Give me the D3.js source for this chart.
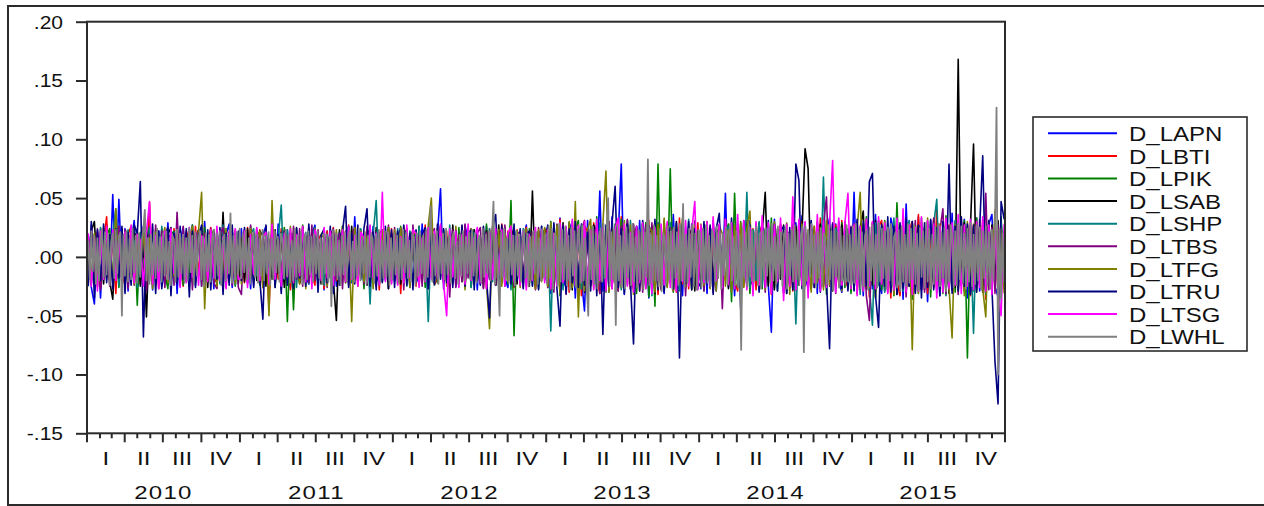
<!DOCTYPE html>
<html>
<head>
<meta charset="utf-8">
<script src="https://cdn.jsdelivr.net/npm/d3@7"></script>
<style>
  body { margin: 0; background: #ffffff; }
  svg text { font-family: "Liberation Sans", Arial, sans-serif; fill: #111; }
</style>
</head>
<body>
<svg id="chart" width="1264" height="506"></svg>
<script>
// ---------------- DATA ----------------
const seriesNames  = ["D_LAPN","D_LBTI","D_LPIK","D_LSAB","D_LSHP","D_LTBS","D_LTFG","D_LTRU","D_LTSG","D_LWHL"];
const seriesColors = ["#0000FF","#FF0000","#008000","#000000","#008080","#800080","#808000","#000080","#FF00FF","#808080"];
const firstObs = "2010-01-04";
const lastObs  = "2015-12-30";
const yTickValues = [0.20, 0.15, 0.10, 0.05, 0.00, -0.05, -0.10, -0.15];
const yTickLabels = [".20", ".15", ".10", ".05", ".00", "-.05", "-.10", "-.15"];
const quarterLabels = ["I", "II", "III", "IV"];
const yearLabels = ["2010", "2011", "2012", "2013", "2014", "2015"];

const D_LAPN = [
 .018,-.026,-.040,.021,-.035,.015,.027,-.019,.053,-.022,.049,-.017,.024,-.029,.012,.031,-.021,-.014,.026,-.023,
 .019,-.028,.016,.022,-.025,-.013,.029,-.018,.021,-.031,.014,.025,-.020,-.016,.027,-.024,.018,-.012,.030,-.021,
 .016,-.027,.023,-.015,-.022,.019,.028,-.026,.013,-.019,
 .024,-.018,.013,-.027,.021,-.014,-.022,.019,.026,-.017,.015,-.024,.028,-.013,-.020,.023,-.026,.017,.012,-.021,
 .025,-.016,-.023,.019,.027,-.015,.014,-.028,.022,-.018,.017,-.025,.021,.013,-.019,.026,-.022,.034,-.017,.015,
 -.024,.020,-.013,.026,-.021,-.016,.023,.018,-.027,.019,
 -.021,.017,.025,-.019,.014,-.026,.022,-.015,-.023,.028,-.018,.016,.024,-.021,.019,.058,-.027,.015,-.012,.023,
 -.025,.018,-.016,.027,.013,-.022,.020,-.028,.017,-.014,.026,-.019,.021,-.024,.016,.023,-.018,-.026,.029,-.015,
 .019,-.022,.014,.027,-.020,.017,-.025,.022,-.013,.018,
 .026,-.031,.019,-.024,.033,-.018,-.027,.029,.021,-.035,.024,-.019,-.046,.031,-.022,.027,-.017,.056,-.029,.023,
 -.026,.034,-.021,.018,.079,-.032,.025,-.028,.020,-.024,.031,-.019,.027,-.035,.022,-.025,.029,.017,-.031,.024,
 -.022,.036,-.027,.019,-.033,.025,-.018,.028,-.024,.021,
 -.027,.022,-.031,.025,.018,-.029,.024,-.020,.054,-.026,.021,-.033,.028,-.019,.023,-.025,.031,-.022,.017,-.028,
 .026,.019,-.024,-.064,.032,-.021,.025,-.030,.022,.018,-.027,.029,-.023,.035,-.018,-.026,.024,.020,-.031,.027,
 -.022,.019,.033,-.025,.028,-.021,-.030,.024,.018,-.026,
 .055,-.028,.024,-.033,.029,.019,-.027,.036,-.022,-.031,.026,-.024,.033,.021,-.029,.027,-.036,.045,-.025,.030,
 -.021,.034,-.028,.024,-.038,.031,-.019,.028,-.033,.025,.022,-.030,.037,-.026,.029,-.023,.032,-.035,.027,-.021,
 .033,-.029,.024,-.031,.028,.036,-.025,-.034,.030,-.022
];
const D_LBTI = [
 -.019,.023,-.016,.021,-.026,.014,.034,-.021,.017,-.031,.022,-.015,-.024,.019,.026,-.018,.013,-.023,.020,-.017,
 .046,-.022,.018,-.027,.015,.021,-.019,-.013,.024,-.020,.017,-.025,.022,.014,-.021,.026,-.016,.019,-.023,.012,
 .025,-.018,-.022,.020,.016,-.026,.021,-.014,.023,-.019,
 .016,-.022,.025,-.017,.020,-.013,.023,-.026,.018,-.045,.022,.015,-.019,.024,-.021,.017,-.028,.020,.013,-.023,
 .026,-.018,.021,-.015,-.024,.019,.014,-.027,.022,-.016,.025,-.020,-.013,.018,-.022,.027,-.017,.021,-.025,.016,
 .019,-.023,.026,-.014,.020,-.028,.017,.022,-.019,.024,
 -.017,.021,-.031,.026,-.019,.014,.023,-.025,.018,-.021,.027,-.016,.020,-.024,-.018,.025,-.013,.022,-.028,.019,
 .015,-.022,.026,-.017,.021,-.025,.018,.013,-.023,.020,-.027,.024,-.015,.019,-.021,.028,-.018,.022,-.014,-.026,
 .023,-.019,.017,.025,-.022,.016,-.027,.021,-.018,.024,
 .021,-.028,.025,-.019,.032,-.024,.018,-.030,.027,-.021,.019,-.033,.026,.022,-.025,.029,-.018,-.031,.024,-.022,
 .030,-.026,.021,-.028,.034,-.019,.023,-.027,.019,.025,-.029,.022,-.024,.031,-.020,.027,-.032,.018,-.025,.028,
 -.021,.024,-.030,.033,-.023,.020,-.027,.026,-.019,.029,
 -.024,.028,-.019,.025,-.030,.021,.018,-.027,.032,-.022,.026,-.020,-.029,.023,-.025,.031,-.018,.024,-.028,.020,
 .027,-.023,.019,-.032,.025,-.021,.028,-.026,.022,.017,-.029,.024,-.020,.030,-.024,.019,-.027,.026,-.021,.033,
 -.025,.022,.018,-.028,.027,-.023,.031,-.019,-.026,.024,
 .027,-.031,.023,-.026,.020,-.034,.029,-.022,.025,.031,-.027,.024,-.035,.028,-.021,-.033,.026,-.029,.022,.030,
 -.024,.036,-.028,.025,-.031,.022,-.026,.040,-.029,.023,-.032,.027,-.021,.030,-.025,.034,-.028,.021,-.033,.026,
 .029,-.024,.031,-.036,.025,-.022,.028,-.030,.024,-.027
];
const D_LPIK = [
 .015,-.022,.019,-.025,.023,-.016,.018,.024,-.021,.017,-.026,.020,-.014,.022,-.019,.025,-.041,.021,-.017,.013,
 .026,-.023,.016,-.020,.024,-.015,-.027,.019,.022,-.018,.014,-.024,.021,-.016,.027,-.022,.018,-.013,.025,-.020,
 .017,.023,-.026,.015,-.019,.024,-.021,.016,-.025,.020,
 -.018,.022,-.015,.026,-.021,.019,-.024,.016,.023,-.017,.020,-.026,.014,-.019,.025,-.055,.021,-.045,.018,-.022,
 .027,-.016,.023,-.020,.015,-.025,.019,.022,-.018,.013,-.024,.021,-.017,.026,-.022,.018,-.014,.025,-.021,.016,
 -.027,.020,.023,-.019,.016,-.024,.022,-.018,.025,-.015,
 .019,-.023,.026,-.017,.021,-.025,.015,.022,-.020,.018,-.026,.024,-.016,.020,-.022,.027,-.019,.014,-.024,.021,
 -.017,.025,-.021,.018,.013,-.026,.023,-.019,.016,-.022,.028,-.018,.021,-.024,.017,-.020,.025,-.023,.048,-.067,
 .022,-.016,.019,-.025,.024,-.018,.020,-.027,.017,.023,
 -.026,.030,-.021,.027,-.033,.024,-.019,.029,-.025,.022,.031,-.027,.020,-.029,.026,-.023,.034,-.018,.025,-.030,
 .023,-.026,.028,-.021,.032,-.028,.024,-.019,.027,-.031,.021,-.025,.029,-.034,.026,-.042,.079,-.027,.022,-.024,
 .075,-.030,.026,-.021,.033,-.025,.020,-.028,.031,-.023,
 .024,-.029,.021,-.026,.031,-.020,.027,-.023,.019,.028,-.038,.054,-.025,.030,-.022,.026,-.031,.023,-.019,.029,
 -.027,.024,-.021,.033,-.026,.020,.025,-.030,.022,-.024,.028,-.019,.031,-.025,.023,-.028,.026,-.021,.030,-.027,
 .019,-.032,.027,-.023,.025,-.020,.029,-.026,.024,-.031,
 .026,-.031,.023,-.027,.034,-.022,.029,-.035,.025,-.028,.031,-.024,.027,-.033,.046,-.026,.022,-.030,.028,-.036,
 .024,-.029,.033,-.021,.027,-.034,.030,-.025,.022,-.031,.035,-.027,.024,-.030,.028,-.023,.031,-.086,.026,-.029,
 .033,-.024,.027,-.032,.021,-.028,.030,-.025,.034,-.022
];
const D_LSAB = [
 -.017,.022,.030,-.014,.019,-.023,.016,-.021,-.036,.018,-.013,.024,-.019,.015,-.022,.020,.017,-.025,.013,-.051,
 .021,-.016,.023,-.018,.014,-.022,.019,.025,-.017,.012,-.024,.018,-.015,.021,-.020,.016,.023,-.019,.014,-.026,
 .020,-.017,.015,-.022,.038,-.018,.021,-.014,.019,-.023,
 .016,-.021,.024,-.017,.013,-.020,.022,.018,-.025,.015,-.019,.023,-.014,.021,-.026,.017,.020,-.016,.024,-.022,
 .013,-.018,.025,-.021,.017,.015,-.023,.019,-.016,.022,-.020,-.054,.023,-.017,.014,-.022,.026,-.019,.018,-.013,
 .021,-.024,.016,-.018,.025,.019,-.021,.014,-.027,.020,
 -.015,.020,-.023,.017,.024,-.019,.013,-.021,.026,-.016,.019,-.024,.022,-.018,-.014,.025,-.020,.016,-.022,.027,
 -.017,.014,.021,-.025,.018,-.016,.023,-.020,.015,-.026,.022,-.013,.019,-.024,.027,-.018,.016,-.021,.024,.017,
 -.023,.020,-.019,.015,-.025,.056,-.022,.018,-.016,.023,
 -.020,.025,-.018,.022,-.027,.029,-.023,.019,-.028,.024,-.021,.026,-.030,.018,-.024,.027,.021,-.026,.023,-.019,
 .028,-.025,.020,-.029,.024,-.022,.031,-.018,-.027,.025,-.021,.029,-.024,.019,.026,-.031,.022,-.020,.027,-.025,
 .018,-.028,.030,-.023,.021,-.026,.024,.019,-.029,.022,
 -.023,.027,-.019,.024,-.028,.020,.025,-.022,.018,-.027,.029,-.021,.023,-.026,.019,.028,-.024,-.020,.026,-.023,
 .021,.055,-.025,.020,-.028,.024,-.019,.027,-.031,.022,-.018,.026,-.024,.021,.092,.075,-.027,.023,-.021,.028,
 -.025,.019,.024,-.029,.022,-.020,.027,-.023,.018,-.026,
 .028,-.022,.025,.039,-.027,.020,-.024,.031,-.019,.026,-.029,.023,-.021,.027,-.032,.024,-.018,.028,-.025,.021,
 -.030,.026,.023,-.028,.019,-.025,.032,-.022,.027,-.020,.024,-.031,.021,-.026,.168,-.024,.029,-.021,.026,.096,
 -.028,.023,-.030,.025,-.019,.027,-.024,.031,-.022,.020
];
const D_LSHP = [
 .018,-.023,.015,-.020,.025,-.017,.022,-.014,.019,.041,-.024,.016,-.021,.023,-.018,.014,-.026,.020,.017,-.022,
 .024,-.015,.019,-.021,.026,-.018,.013,-.024,.021,-.016,-.020,.023,-.017,.025,-.022,.015,.019,-.025,.018,-.013,
 .022,-.020,.016,-.023,.027,-.019,-.015,.021,-.024,.017,
 -.020,.017,-.023,.019,.024,-.016,.021,-.025,.014,-.018,.022,-.021,.016,.044,-.019,.023,-.015,.020,-.026,.018,
 -.014,.021,-.023,.017,.025,-.020,.016,-.024,.019,-.017,.023,-.015,.020,-.022,.018,.026,-.021,.014,-.019,.024,
 -.016,.021,-.040,.019,.048,-.023,.017,-.020,.025,-.018,
 -.019,.024,-.016,.020,-.025,.022,.017,-.021,.026,-.018,.015,-.055,.021,-.024,.019,-.016,.023,-.020,.027,-.015,
 .018,-.022,.025,-.019,.016,-.026,.021,.014,-.023,.019,-.017,.024,-.021,.018,-.025,.022,-.015,.020,-.028,.023,
 .016,-.019,.024,-.022,.017,-.024,.021,-.018,.026,-.020,
 .022,-.063,.027,-.022,.019,-.028,.024,-.020,.030,-.025,.021,-.027,.026,-.032,.023,.018,-.025,.029,-.021,.024,
 -.030,.027,-.019,.025,-.028,.022,-.024,.031,-.020,.026,-.023,.028,-.026,.021,-.033,.024,.019,-.027,.025,-.022,
 .029,-.024,.022,-.029,.026,-.020,.032,-.025,.021,-.027,
 .024,-.028,.020,-.025,.029,-.022,.027,-.019,.023,.026,-.030,.022,-.024,.028,-.021,.055,-.026,.023,-.020,.030,
 -.025,.019,.027,-.023,.021,-.029,.025,-.022,.028,-.024,.020,-.057,.026,-.021,.024,-.027,.030,-.019,.025,-.023,
 .068,-.026,.022,-.028,.024,.019,-.025,.027,-.021,.023,
 -.028,.023,-.032,.027,.021,-.025,-.058,.029,-.024,.026,-.030,.022,-.027,.033,-.021,.025,-.029,.024,.031,-.023,
 .027,-.031,.021,-.026,.030,-.024,.028,.049,-.027,.022,-.033,.025,-.028,.031,-.022,.026,-.030,.024,.020,-.065,
 .028,-.023,.026,-.031,.022,-.027,.032,-.025,.029,-.021
];
const D_LTBS = [
 -.022,.027,-.019,.024,-.028,.020,.016,-.025,.022,-.017,.026,-.020,.023,-.027,.018,-.024,.021,-.016,.025,-.029,
 .019,-.023,.027,-.018,.022,-.026,.015,.020,-.024,.038,-.021,.026,-.019,.023,-.028,.017,.022,-.025,.020,-.018,
 .024,-.022,-.027,.019,.025,-.020,.016,-.024,.021,-.026,
 -.032,.023,-.019,.027,-.024,.018,.021,-.026,.020,-.017,.025,-.023,.019,-.028,.022,.016,-.021,.026,-.019,.024,
 -.025,.018,-.022,.027,-.020,.023,-.017,.021,-.026,.019,.024,-.018,.020,-.027,.022,-.024,.017,.025,-.021,.019,
 -.023,.026,-.018,.021,-.025,.020,.023,-.019,.027,-.022,
 .025,-.020,.023,-.028,.019,-.023,.027,-.021,.018,-.025,.022,-.027,.020,.024,-.019,.026,-.022,.017,-.034,.023,
 -.026,.019,-.021,.028,-.018,.024,-.023,.020,.025,-.027,.021,-.019,.026,-.024,.018,-.022,.027,-.020,.023,-.025,
 .019,.022,-.026,.024,-.018,.021,-.028,.025,-.020,.023,
 -.026,.024,-.030,.028,-.022,.027,-.032,.025,-.020,.029,-.026,.023,.031,-.028,.021,-.024,.027,-.031,.025,-.022,
 .030,-.027,.023,-.029,.026,-.021,.032,-.025,.028,-.023,.021,-.030,.027,-.024,.029,-.026,.022,-.028,.031,-.020,
 .025,-.029,.024,-.021,.028,-.033,.026,-.022,.030,-.027,
 .025,-.029,.022,-.026,.030,-.023,.027,-.044,.026,-.024,.029,-.021,.024,-.028,.031,-.025,.022,-.027,.028,-.020,
 .026,-.030,.023,-.025,.029,-.022,.027,-.031,.024,-.026,.021,-.028,.030,-.024,.025,-.029,.022,-.026,.028,-.023,
 .027,.051,-.025,.029,-.031,.024,-.027,.030,-.022,.026,
 -.027,.030,-.024,.028,-.033,-.054,.025,-.029,.031,-.023,.027,-.030,.024,-.028,.032,-.025,.029,-.034,.026,-.022,
 .031,-.027,.025,-.030,.028,-.024,.033,-.029,.022,.041,-.031,.026,-.028,.024,-.032,.029,-.023,.027,-.030,.025,
 -.026,.032,-.029,.054,-.028,.025,-.031,.027,-.024,.022
];
const D_LTFG = [
 .017,-.022,.020,-.025,.015,.023,-.019,.014,-.021,.041,-.018,.022,-.026,.016,.020,-.023,.018,-.015,.024,-.020,
 .016,-.027,.021,-.017,.013,.025,-.022,.019,-.016,.023,-.024,.018,-.021,.015,.026,-.019,.022,.055,-.044,.020,
 -.017,.023,-.025,.016,-.020,.024,-.018,.021,-.023,.016,
 -.023,.019,-.016,.024,-.021,.017,.022,-.026,.015,-.050,.048,-.020,.017,-.025,.022,-.018,.026,-.015,.020,-.023,
 .018,-.027,.022,-.014,.024,-.021,.019,.016,-.025,.021,-.017,.023,-.020,.026,-.019,.015,-.055,.025,-.018,.022,
 -.021,.016,.024,-.027,.019,-.020,.023,-.016,.025,-.019,
 .023,-.018,.025,-.022,.017,-.026,.021,.019,-.024,.016,-.021,.027,.050,-.020,.024,-.017,.022,-.025,.019,-.023,
 .026,-.016,.021,-.028,.018,.024,-.022,.020,-.019,.025,-.023,-.061,.026,-.018,.023,-.025,.020,-.021,.027,-.017,
 .022,-.026,.019,.024,-.020,.018,-.027,.023,-.021,.025,
 -.025,.029,-.020,.027,-.031,.024,-.022,.030,-.026,.047,-.051,.026,-.029,.023,.032,-.027,.025,-.021,.028,.073,
 -.030,.025,-.022,.028,-.026,.031,-.023,.027,-.032,.024,-.021,.029,-.027,.025,.022,-.030,.028,-.024,.033,-.026,
 .023,-.029,.026,-.022,.031,-.025,.020,-.028,.027,-.024,
 .028,-.024,.030,-.027,.022,-.029,.026,.020,-.025,.023,-.030,.027,-.022,.029,-.026,.024,.039,-.031,.028,-.023,
 .025,-.028,.022,-.026,.030,-.021,.027,-.024,.029,-.032,.024,-.027,.021,.028,-.025,.023,-.030,.026,-.022,.025,
 -.028,.031,-.024,.027,-.020,.026,-.029,.024,-.027,.022,
 -.027,.024,.055,-.029,.032,-.026,.025,-.034,.028,-.023,.030,-.028,.026,-.032,.027,-.024,.031,-.029,.025,-.079,
 .026,-.031,.029,-.025,.033,-.027,.024,-.030,.028,-.022,.031,-.026,-.069,.027,-.029,.024,-.033,.030,-.025,.028,
 -.030,.026,-.027,-.051,.031,-.024,.040,-.029,.025,-.031
];
const D_LTRU = [
 -.025,.030,-.035,.023,-.020,.028,-.022,.019,-.027,.024,-.018,.026,-.031,.021,-.024,.027,.020,.064,-.068,.025,
 -.020,.028,-.031,.022,-.027,.019,.025,-.033,.020,-.023,.026,-.019,.024,-.034,.022,-.026,.018,.027,-.021,.023,
 -.028,.021,-.019,.025,-.032,.020,-.024,.027,-.018,.022,
 -.020,.025,-.022,.018,-.026,.024,-.019,-.053,.027,-.021,.023,-.026,.019,-.031,.022,-.024,.020,-.027,.025,-.018,
 .021,-.025,.028,-.019,.023,-.030,.018,.024,-.022,.026,-.031,.019,-.024,.022,.043,-.026,.020,-.023,.027,-.019,
 .024,.041,-.025,.021,-.028,.019,-.022,.026,-.020,.023,
 -.026,.022,-.019,.027,-.024,.020,-.028,.023,-.021,.019,.025,-.027,.021,-.023,.028,-.019,.024,-.022,.018,-.026,
 .022,-.020,.027,-.025,.019,.023,-.028,.021,-.024,.026,-.019,-.052,.024,.036,-.021,.027,-.025,.020,-.023,.028,
 -.020,.024,-.027,.019,.022,-.025,.021,-.028,.026,-.019,
 .027,-.023,.029,-.027,-.059,.026,-.031,.024,-.022,.030,-.026,.028,-.024,.021,-.029,.025,-.033,.023,-.066,.027,
 -.025,.029,.060,-.026,.024,-.031,.028,-.022,-.074,.026,-.029,.031,-.024,.027,-.020,.032,-.028,.024,-.030,.025,
 .022,-.027,.029,-.086,.026,-.023,.030,-.028,.024,-.021,
 -.026,.030,-.023,.027,-.032,.024,.037,-.025,.029,-.022,.033,-.028,.025,-.045,.030,-.024,.027,-.021,.028,-.030,
 .024,-.026,.031,-.023,.027,-.029,.022,.026,-.031,.025,-.028,.079,.065,-.027,.029,-.023,.031,-.026,.024,-.030,
 .027,-.022,-.078,.028,-.025,.030,-.027,.023,-.029,.025,
 -.029,.032,-.027,.030,-.024,.064,.071,-.033,-.060,.028,-.025,.034,-.030,.026,-.032,.029,-.027,.033,-.024,.030,
 -.031,.027,-.035,.029,-.026,.032,-.028,.025,-.033,.030,-.027,.079,-.031,.026,-.029,.034,-.025,.028,-.032,.027,
 -.030,.025,.086,-.028,.031,-.026,-.089,-.125,.047,.032
];
const D_LTSG = [
 .020,-.025,.017,-.029,.022,-.019,.026,-.015,.023,-.020,.018,-.024,.021,-.016,.027,-.022,.019,.014,-.025,.021,
 .047,-.023,.018,-.027,.016,.022,-.019,.024,-.014,.020,-.026,.019,-.022,.025,-.017,.021,-.024,.018,.015,-.021,
 .023,-.018,.026,-.020,.017,-.027,.022,-.016,.024,-.019,
 -.018,.022,-.026,.019,-.015,.025,-.020,.017,.021,-.023,.028,-.019,.014,-.025,.020,-.017,.024,-.022,.019,-.016,
 .026,-.021,.017,-.027,.023,.015,-.020,.025,-.018,.022,-.024,.019,-.016,.023,-.021,.026,-.019,.018,-.025,.021,
 .016,-.022,.027,-.018,.020,-.024,.055,-.021,.019,-.023,
 .019,-.024,.017,-.022,.027,-.018,.023,.020,-.026,.016,-.021,.025,-.019,.022,-.017,.028,-.023,-.050,.024,-.017,
 .022,-.026,.019,-.023,.028,-.020,.016,.025,-.022,.018,-.027,.021,-.019,.024,-.016,.023,-.025,.020,.026,-.021,
 .018,-.024,.022,-.028,.019,-.020,.025,-.017,.023,-.022,
 .023,-.027,.020,-.025,.029,-.022,.026,-.019,.032,-.024,.027,-.021,.030,-.026,.023,-.028,.032,-.020,.025,-.029,
 .022,-.027,.024,.033,-.023,.028,-.025,.021,-.030,.026,-.022,.029,-.027,.024,-.031,.025,-.020,.028,-.024,.030,
 -.026,.023,-.029,.027,-.021,.031,-.025,.022,.047,-.028,
 .027,-.022,.030,-.025,.034,-.020,.028,-.026,.032,-.023,.029,-.027,.036,-.022,.031,-.028,.025,-.033,.030,-.024,
 .035,-.026,.029,-.031,.027,-.021,.033,-.037,.028,-.025,.051,-.028,.032,-.024,.030,-.035,.027,-.022,.036,-.029,
 .031,-.026,.028,.082,-.030,.033,-.024,.029,.054,-.027,
 .028,-.033,.026,-.029,.032,-.025,.030,-.027,.034,-.023,.029,-.031,.026,-.028,.033,-.024,.041,-.030,.027,-.032,
 .025,-.029,.034,-.026,.031,-.023,.028,-.035,.026,-.030,.033,-.027,.029,-.024,.036,-.031,.027,-.025,.032,-.028,
 .030,-.026,.034,-.029,.027,-.032,.025,-.030,-.050,.028
];
const D_LWHL = [
 .014,-.019,.022,-.012,.018,-.023,.016,-.020,.011,.024,-.017,.021,-.015,.019,-.024,.013,.020,-.018,.023,-.014,
 .017,.021,-.050,.019,-.016,.022,-.021,.015,-.019,.024,-.013,.018,-.022,.020,-.017,.014,.023,.040,-.020,.016,
 -.023,.019,-.015,.021,-.018,.024,-.012,.017,-.021,.020,
 -.016,.022,-.019,.013,-.024,.018,.015,-.021,.023,-.017,.020,-.014,.019,-.022,.016,-.020,.024,-.013,.018,-.023,
 .021,-.016,.014,.022,-.019,.017,-.025,.020,-.012,.019,-.021,.015,.023,-.018,.020,-.016,.022,-.024,.013,.019,
 -.020,.017,-.014,.037,-.022,.018,-.019,.021,-.015,.024,
 -.018,.020,-.013,.022,-.019,.016,-.023,.014,.021,-.017,.019,-.022,.015,-.016,.023,-.020,.018,-.014,.021,-.024,
 .016,-.019,.022,-.013,.017,-.021,.020,.015,-.018,.023,-.016,.019,-.022,.014,-.020,.024,-.017,.018,-.013,.021,
 -.023,.016,.020,-.019,.022,-.015,.017,-.021,.019,-.014,
 .022,-.018,.016,-.023,.020,-.014,.019,-.021,.017,-.042,.023,-.016,.020,-.019,.014,-.024,.018,-.015,.021,-.020,
 .016,.022,-.018,.013,-.021,.019,-.016,.024,-.020,.017,-.014,.021,-.023,.018,-.017,.020,.015,-.022,.019,-.016,
 .023,-.020,.014,-.018,.022,-.017,.021,-.024,.016,-.019,
 .020,-.015,.018,-.022,.016,-.019,.023,-.013,.021,-.018,.014,-.021,.019,.017,-.024,.020,-.016,.022,-.014,.018,
 -.020,.023,-.017,.015,.043,-.021,.019,-.016,.022,-.023,.017,-.014,.020,-.019,.024,-.015,.018,-.022,.016,.021,
 -.018,.013,-.023,.019,-.016,.022,-.020,.017,-.014,.021,
 -.019,.023,-.016,.020,-.022,.015,.018,-.021,.024,-.017,.019,-.014,.022,-.020,.016,.047,-.023,.018,-.015,-.050,
 .021,-.017,.024,-.019,.016,-.022,.020,-.015,.018,-.024,.022,-.016,.019,-.021,.014,.023,-.018,.020,-.025,.017,
 -.019,.022,-.014,.021,-.023,.016,-.020,.024,-.017,.019,
 -.022,.026,-.018,.024,-.027,.020,.017,-.025,.028,-.021,.023,-.019,.026,-.024,.018,-.028,.025,-.016,.022,-.026,
 .019,.024,-.022,.027,-.020,.016,-.025,-.050,.023,-.019,.026,-.023,.020,-.027,.018,.024,-.021,.028,-.018,.022,
 .050,-.025,.021,-.019,.024,-.058,.027,-.020,.018,-.026,
 .022,-.027,.025,-.018,.020,-.024,.028,-.021,.017,-.026,.023,-.019,.026,-.028,.021,-.017,.083,-.024,.019,-.022,
 .027,-.020,.018,-.025,.024,-.029,.020,.016,-.023,.026,-.019,.022,-.027,.025,-.018,.021,-.024,.028,-.020,.045,
 -.026,.019,-.022,.024,-.017,.027,-.025,.020,-.028,.023,
 .021,-.026,.024,-.019,.027,-.022,.018,-.025,.023,.016,-.021,.026,-.018,.022,-.027,.020,-.016,.025,-.023,.019,
 .028,-.020,.017,-.024,.022,-.026,.019,-.079,.024,-.018,.021,-.025,.027,-.017,.023,-.021,.018,.026,-.024,.020,
 -.027,.022,-.019,.025,-.016,.024,-.022,.028,-.020,.017,
 -.023,.026,-.018,.021,-.025,.019,.024,-.027,.020,-.016,.023,-.021,.027,-.019,.022,-.024,.018,.025,-.081,.026,
 -.020,.023,-.017,.028,-.022,.019,-.026,.021,-.018,.024,-.025,.020,.016,-.023,.027,-.019,.022,-.028,.024,-.017,
 .021,-.026,.025,-.020,.018,-.023,.027,-.021,.019,-.024,
 .026,-.022,.028,-.019,.024,-.027,.021,-.025,.018,.023,-.028,.025,-.020,.027,-.023,.019,-.026,.029,-.021,.024,
 -.018,.022,-.027,.025,-.020,.028,-.024,.017,.021,-.026,.023,-.029,.026,-.021,.019,-.025,.028,-.022,.024,-.019,
 .027,-.023,.020,-.028,.025,-.017,.022,-.026,.029,-.021,
 .024,-.027,.019,-.023,.026,-.020,.028,-.025,.021,-.018,.025,-.029,.023,-.021,.027,.018,-.026,.022,-.024,.028,
 -.019,.026,-.022,.020,-.027,.024,-.021,.029,-.025,.019,-.023,.027,-.020,.025,-.028,.022,-.018,.026,-.024,.021,
 -.027,.023,-.020,.025,.127,-.100,.024,-.035,.020,-.022
];
const seriesValues = [D_LAPN, D_LBTI, D_LPIK, D_LSAB, D_LSHP, D_LTBS, D_LTFG, D_LTRU, D_LTSG, D_LWHL];

// ---------------- LAYOUT ----------------
const svg = d3.select("#chart");
const M = { left: 87, right: 1005, top: 21.7, bottom: 433.3 };

// outer frame
svg.append("rect")
  .attr("x", 8).attr("y", 6).attr("width", 1270).attr("height", 499)
  .attr("fill", "none").attr("stroke", "#2b2b2b").attr("stroke-width", 2);

const x = d3.scaleTime()
  .domain([new Date(2010, 0, 1), new Date(2016, 0, 1)])
  .range([M.left, M.right]);
const y = d3.scaleLinear().domain([-0.15, 0.20]).range([M.bottom, M.top]);

const t0 = new Date(firstObs + "T00:00:00"), t1 = new Date(lastObs + "T00:00:00");
function obsDates(n) {
  const s = d3.scaleLinear().domain([0, n - 1]).range([+t0, +t1]);
  return d3.range(n).map(i => new Date(s(i)));
}

const line = d3.line().x(d => x(d[0])).y(d => y(d[1]));
const gLines = svg.append("g");
seriesValues.forEach((vals, k) => {
  const ds = obsDates(vals.length);
  gLines.append("path")
    .datum(vals.map((v, i) => [ds[i], v]))
    .attr("d", line)
    .attr("fill", "none")
    .attr("stroke", seriesColors[k])
    .attr("stroke-width", k === 9 ? 1.8 : 1.6)
    .attr("stroke-linejoin", "round");
});

// Y axis
const SX = 1.2;
const yAxis = d3.axisLeft(y).tickValues(yTickValues).tickSize(11).tickPadding(0)
  .tickFormat((d, i) => yTickLabels[i]);
const gy = svg.append("g").attr("transform", `translate(${M.left},0)`).call(yAxis);
gy.select(".domain").remove();
gy.selectAll(".tick line").attr("stroke", "#2b2b2b").attr("stroke-width", 2);
gy.selectAll(".tick text")
  .attr("x", -24 / SX).attr("dy", "0.36em")
  .attr("transform", `scale(${SX},1)`)
  .style("font-size", "17.5px").style("font-family", "'Liberation Sans', Arial, sans-serif")
  .attr("fill", "#111");

// X axis (monthly minor ticks, quarterly major ticks)
const months = d3.timeMonth.range(new Date(2010, 0, 1), new Date(2016, 0, 2));
const gx = svg.append("g");
gx.selectAll("line.mt").data(months).join("line")
  .attr("x1", d => x(d)).attr("x2", d => x(d))
  .attr("y1", M.bottom).attr("y2", d => M.bottom + (d.getMonth() % 3 === 0 ? 9 : 5))
  .attr("stroke", "#2b2b2b").attr("stroke-width", 2);

const quarters = d3.timeMonth.every(3).range(new Date(2010, 0, 1), new Date(2016, 0, 1));
const QX = 1.3;
gx.selectAll("text.q").data(quarters).join("text")
  .attr("transform", d => {
    const mid = new Date((+d + +d3.timeMonth.offset(d, 3)) / 2);
    return `translate(${x(mid)},465) scale(${QX},1)`;
  })
  .attr("text-anchor", "middle")
  .style("font-size", "18.5px")
  .text(d => quarterLabels[Math.floor(d.getMonth() / 3)]);

gx.selectAll("text.yr").data(yearLabels).join("text")
  .attr("transform", d => {
    const mid = new Date((+new Date(+d, 0, 1) + +new Date(+d + 1, 0, 1)) / 2);
    return `translate(${x(mid)},499) scale(${QX},1)`;
  })
  .attr("text-anchor", "middle")
  .style("font-size", "18.5px")
  .style("letter-spacing", "1px")
  .text(d => d);

// plot frame
svg.append("rect")
  .attr("x", M.left).attr("y", M.top)
  .attr("width", M.right - M.left).attr("height", M.bottom - M.top)
  .attr("fill", "none").attr("stroke", "#2b2b2b").attr("stroke-width", 2);

// Legend
const LG = { x: 1033, y: 117, w: 214, h: 234, row0: 133.3, dy: 22.6 };
const gl = svg.append("g");
gl.append("rect").attr("x", LG.x).attr("y", LG.y).attr("width", LG.w).attr("height", LG.h)
  .attr("fill", "#fff").attr("stroke", "#2b2b2b").attr("stroke-width", 1.6);
seriesNames.forEach((n, i) => {
  const yy = LG.row0 + i * LG.dy;
  gl.append("line").attr("x1", 1048).attr("x2", 1117).attr("y1", yy).attr("y2", yy)
    .attr("stroke", seriesColors[i]).attr("stroke-width", 2);
  gl.append("text")
    .attr("transform", `translate(1129,${yy + 7.6}) scale(${SX},1)`)
    .style("font-size", "20px")
    .text(n);
});
</script>
</body>
</html>
